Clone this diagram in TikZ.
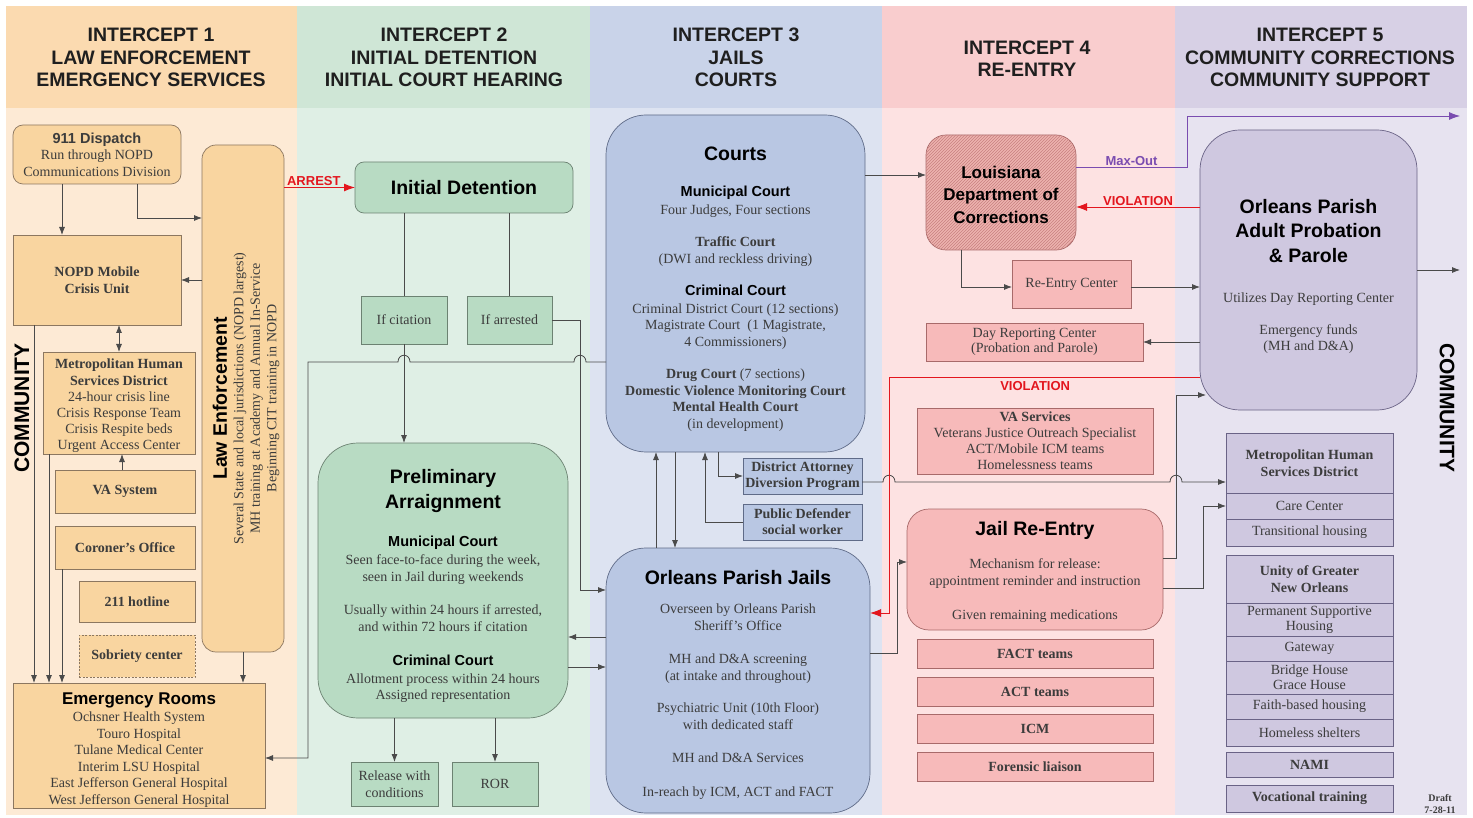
\documentclass[tikz,border=0pt]{standalone}
\usepackage{fontspec}
\setmainfont{Liberation Serif}
\setsansfont{Liberation Sans}
\usepackage{tikz}
\usetikzlibrary{positioning,arrows.meta,calc,patterns}

\definecolor{hdA}{HTML}{FBDAB0}
\definecolor{bgA}{HTML}{FDEAD5}
\definecolor{bxA}{HTML}{F9D5A0}
\definecolor{lnA}{HTML}{8C7760}
\definecolor{hdB}{HTML}{CFE6D6}
\definecolor{bgB}{HTML}{DFEFE5}
\definecolor{bxB}{HTML}{B8DBC3}
\definecolor{lnB}{HTML}{6C8272}
\definecolor{hdC}{HTML}{C9D3E9}
\definecolor{bgC}{HTML}{DDE3F1}
\definecolor{bxC}{HTML}{B9C7E3}
\definecolor{lnC}{HTML}{5F6B88}
\definecolor{hdD}{HTML}{F9CDCE}
\definecolor{bgD}{HTML}{FDE2E2}
\definecolor{bxD}{HTML}{F7BABA}
\definecolor{lnD}{HTML}{A86A6A}
\definecolor{hdE}{HTML}{D7D0E5}
\definecolor{bgE}{HTML}{E7E3F0}
\definecolor{bxE}{HTML}{CFC8E0}
\definecolor{lnE}{HTML}{6A6386}
\definecolor{ldocfill}{HTML}{EEB4AF}
\definecolor{ldochatch}{HTML}{C88080}
\definecolor{vred}{HTML}{E3161E}
\definecolor{mxpurple}{HTML}{7A4CB0}
\definecolor{lnk}{HTML}{4A4A4A}
\definecolor{txt}{HTML}{3C3C3C}

\newcommand{\hdrfont}{\sffamily\bfseries\fontsize{19.5}{22.5}\selectfont}
\newcommand{\ttlfont}{\sffamily\bfseries\fontsize{19.5}{23}\selectfont}
\newcommand{\subfont}{\sffamily\bfseries\fontsize{14.5}{17}\selectfont}
\newcommand{\bodyfont}{\fontsize{14}{16.5}\selectfont}
\newcommand{\tagfont}{\sffamily\bfseries\fontsize{13}{15}\selectfont}

\tikzset{
  sz/.style 2 args={minimum width=#1pt, minimum height=#2pt},
  boxbase/.style={draw, line width=0.7pt, align=center, inner sep=1pt, outer sep=0pt,
    font=\bodyfont, text=txt},
  lebox/.style={boxbase, draw=lnA, fill=bxA},
  idbox/.style={boxbase, draw=lnB, fill=bxB},
  jlbox/.style={boxbase, draw=lnC, fill=bxC},
  rebox/.style={boxbase, draw=lnD, fill=bxD},
  ccbox/.style={boxbase, draw=lnE, fill=bxE, line width=1pt},
  hdr/.style={align=center, font=\hdrfont, text=black!88, inner sep=0pt},
  conn/.style={draw=lnk, line width=0.8pt},
  arr/.style={conn, -{Latex[length=8pt,width=6pt]}},
  dblarr/.style={conn, {Latex[length=8pt,width=6pt]}-{Latex[length=8pt,width=6pt]}},
  vio/.style={draw=vred, line width=0.9pt, -{Latex[length=11pt,width=8pt]}},
  mxo/.style={draw=mxpurple, line width=0.8pt, -{Latex[length=11pt,width=8pt]}},
  flowtag/.style={font=\tagfont, inner sep=1pt},
}

\begin{document}
\begin{tikzpicture}[x=1pt,y=-1pt]

  \useasboundingbox (0,0) rectangle (1473,818);
  \fill[white] (0,0) rectangle (1473,818);

  \fill[bgA] (6,6) rectangle (297,815);
  \fill[hdA] (6,6) rectangle (297,108);
  \fill[bgB] (297,6) rectangle (590,815);
  \fill[hdB] (297,6) rectangle (590,108);
  \fill[bgC] (590,6) rectangle (882,815);
  \fill[hdC] (590,6) rectangle (882,108);
  \fill[bgD] (882,6) rectangle (1175,815);
  \fill[hdD] (882,6) rectangle (1175,108);
  \fill[bgE] (1175,6) rectangle (1467,815);
  \fill[hdE] (1175,6) rectangle (1467,108);

  \node[hdr] (h1) at (151,57.5) {INTERCEPT 1\\LAW ENFORCEMENT\\EMERGENCY SERVICES};
  \node[hdr] (h2) at (444,57.5) {INTERCEPT 2\\INITIAL DETENTION\\INITIAL COURT HEARING};
  \node[hdr] (h3) at (736,57.5) {INTERCEPT 3\\JAILS\\COURTS};
  \node[hdr] (h4) at (1027,58.5) {INTERCEPT 4\\RE-ENTRY};
  \node[hdr] (h5) at (1320,57.5) {INTERCEPT 5\\COMMUNITY CORRECTIONS\\COMMUNITY SUPPORT};

  \node[rotate=90, font=\sffamily\bfseries\fontsize{21}{24}\selectfont] (comL) at (22,408) {COMMUNITY};
  \node[rotate=-90, font=\sffamily\bfseries\fontsize{21}{24}\selectfont] (comR) at (1447,408) {COMMUNITY};

  % intercept 1
  \node[lebox, sz={168}{59}, rounded corners=10pt] (disp) at (97,154.5)
    {{\subfont 911 Dispatch}\\Run through NOPD\\Communications Division};
  \node[lebox, sz={168}{90}] (mcu) at (97,280) {\textbf{NOPD Mobile}\\\textbf{Crisis Unit}};
  \node[lebox, sz={82}{507}, rounded corners=14pt] (lenf) at (243,398.5) {};
  \node[rotate=90, align=center, font=\bodyfont, text=txt] (lenftxt) at ($(lenf.center)+(3,0)$)
    {{\ttlfont\color{black} Law Enforcement}\\Several State and local jurisdictions (NOPD largest)\\MH training at Academy and Annual In-Service\\Beginning CIT training in NOPD};
  \node[lebox, sz={152}{98}, font=\fontsize{14}{16.2}\selectfont] (mhsd) at (119,403)
    {\rule{0pt}{16pt}\textbf{Metropolitan Human}\\\textbf{Services District}\\24-hour crisis line\\Crisis Response Team\\Crisis Respite beds\\Urgent Access Center};
  \node[lebox, sz={140}{43}] (vasys) at (125,491.5) {\textbf{VA System}};
  \node[lebox, sz={140}{43}] (coron) at (125,547.5) {\textbf{Coroner's Office}};
  \node[lebox, sz={116}{41}] (hotl) at (137,601.5) {\textbf{211 hotline}};
  \node[lebox, sz={116}{42}, dash pattern=on 2pt off 1.5pt] (sobr) at (137,656) {\textbf{Sobriety center}};
  \node[lebox, sz={252}{121}] (er) at (139,745.5)
    {\rule{0pt}{20pt}{\sffamily\bfseries\fontsize{17}{20}\selectfont\color{black} Emergency Rooms}\\[1pt]Ochsner Health System\\Touro Hospital\\Tulane Medical Center\\Interim LSU Hospital\\East Jefferson General Hospital\\West Jefferson General Hospital};

  \draw[arr] ($(disp.south)+(-35,0)$) -- ($(disp.south |- mcu.north)+(-35,0)$);
  \draw[arr] ($(disp.south)+(40,0)$) |- ($(lenf.west)+(0,-180.5)$);
  \draw[arr] (lenf.west |- mcu.east) -- (mcu.east);
  \draw[dblarr] (mcu.south -| mhsd.north) -- (mhsd.north);
  \draw[arr] ($(vasys.north)+(-3,0)$) -- ($(vasys.north |- mhsd.south)+(-3,0)$);
  \draw[arr] ($(mcu.south)+(-63,0)$) -- ($(mcu.south |- er.north)+(-63,0)$);
  \draw[arr] ($(mhsd.south)+(-70,0)$) -- ($(mhsd.south |- er.north)+(-70,0)$);
  \draw[arr] ($(coron.south)+(-63,0)$) -- ($(coron.south |- er.north)+(-63,0)$);
  \draw[arr] (lenf.south) -- (lenf.south |- er.north);

  % intercept 2
  \node[idbox, sz={218}{51}, rounded corners=9pt, font=\ttlfont, text=black] (idet) at (464,187.5) {Initial Detention};
  \node[idbox, sz={86}{48}] (ifcit) at (404,320) {If citation};
  \node[idbox, sz={85}{48}] (ifarr) at (509.5,320) {If arrested};
  \node[idbox, sz={250}{275}, rounded corners=40pt] (prelim) at (443,580.5)
    {\rule{0pt}{25pt}{\ttlfont\color{black} Preliminary}\\[6pt]{\ttlfont\color{black} Arraignment}\\[21pt]{\subfont\color{black} Municipal Court}\\[2pt]Seen face-to-face during the week,\\seen in Jail during weekends\\[17pt]Usually within 24 hours if arrested,\\and within 72 hours if citation\\[18pt]{\subfont\color{black} Criminal Court}\\[1pt]Allotment process within 24 hours\\Assigned representation};
  \node[idbox, sz={87}{44}] (relc) at (394.5,784) {Release with\\conditions};
  \node[idbox, sz={86}{44}] (ror) at (495,784) {ROR};

  \draw[vio] (lenf.east |- idet.west) -- node[flowtag, above, pos=0.42, text=vred] {ARREST} (idet.west);
  \draw[conn] (idet.south -| ifcit.north) -- (ifcit.north);
  \draw[conn] (idet.south -| ifarr.north) -- (ifarr.north);
  \draw[arr] (ifcit.south) -- (ifcit.south |- prelim.north);
  \draw[arr] (relc.north |- prelim.south) -- (relc.north);
  \draw[arr] (ror.north |- prelim.south) -- (ror.north);

  % intercept 3
  \node[jlbox, sz={259}{337}, rounded corners=40pt] (courts) at (735.5,283.5)
    {\rule{0pt}{24pt}{\ttlfont\color{black} Courts}\\[20pt]{\subfont\color{black} Municipal Court}\\[1pt]Four Judges, Four sections\\[16pt]\textbf{Traffic Court}\\(DWI and reckless driving)\\[16pt]{\subfont\color{black} Criminal Court}\\[1pt]Criminal District Court (12 sections)\\Magistrate Court\ \ (1 Magistrate,\\4 Commissioners)\\[16pt]\textbf{Drug Court} (7 sections)\\\textbf{Domestic Violence Monitoring Court}\\\textbf{Mental Health Court}\\(in development)};
  \node[jlbox, sz={264}{265}, rounded corners=40pt] (jail) at (738,680.5)
    {\rule{0pt}{23pt}{\ttlfont\color{black} Orleans Parish Jails}\\[13pt]Overseen by Orleans Parish\\Sheriff's Office\\[17pt]MH and D\&A screening\\(at intake and throughout)\\[16pt]Psychiatric Unit (10th Floor)\\with dedicated staff\\[17pt]MH and D\&A Services\\[17pt]In-reach by ICM, ACT and FACT};
  \node[jlbox, sz={119}{36}, font=\bfseries\fontsize{14}{16}\selectfont] (da) at (802.5,476) {District Attorney\\Diversion Program};
  \node[jlbox, sz={119}{36}, font=\bfseries\fontsize{14}{16}\selectfont] (pd) at (802.5,522) {Public Defender\\social worker};

  \coordinate (ja) at ($(ifarr.east)+(28,0)$);
  \coordinate (cw) at ($(courts.west)+(0,78.5)$);
  \draw[arr] (ifarr.east) -- (ja) |- ($(jail.west)+(0,-90.5)$);
  \draw[arr] ($(prelim.east -| jail.west)+(0,56.5)$) -- ($(prelim.east)+(0,56.5)$);
  \draw[arr] ($(prelim.east)+(0,86.5)$) -- ($(prelim.east -| jail.west)+(0,86.5)$);
  \draw[arr] (cw) -- ($(ja |- cw)+(6,0)$) .. controls +(0,-9) and +(0,-9) .. ($(ja |- cw)+(-6,0)$)
    -- ($(ifcit.south |- cw)+(6,0)$) .. controls +(0,-9) and +(0,-9) .. ($(ifcit.south |- cw)+(-6,0)$)
    -| ($(prelim.west)+(-10,0)$) |- ($(er.east)+(0,12.5)$);
  \draw[arr] ($(jail.north)+(-82,0)$) -- ($(jail.north |- courts.south)+(-82,0)$);
  \draw[arr] ($(jail.north |- courts.south)+(-63,0)$) -- ($(jail.north)+(-63,0)$);
  \draw[arr] ($(courts.south)+(-17.5,0)$) |- (da.west);
  \draw[arr] (pd.west) -| ($(courts.south)+(-30.5,0)$);

  % intercept 4
  \node[rebox, sz={150}{115}, rounded corners=20pt, fill=ldocfill,
    postaction={pattern=north east lines, pattern color=ldochatch},
    font=\sffamily\bfseries\fontsize{17}{22.5}\selectfont, text=black] (ldoc) at (1001,192.5)
    {\rule{0pt}{17pt}Louisiana\\Department of\\Corrections};
  \node[rebox, sz={119}{48}] (rec) at (1071.5,284) {Re-Entry Center};
  \node[rebox, sz={217}{38}, font=\fontsize{14}{15.5}\selectfont] (drc) at (1034.5,342) {Day Reporting Center\\(Probation and Parole)};
  \node[rebox, sz={236}{66}, font=\fontsize{14}{16}\selectfont] (vas) at (1035,441)
    {\textbf{VA Services}\\Veterans Justice Outreach Specialist\\ACT/Mobile ICM teams\\Homelessness teams};
  \node[rebox, sz={256}{121}, rounded corners=22pt] (jre) at (1035,569.5)
    {\rule{0pt}{19pt}{\ttlfont\color{black} Jail Re-Entry}\\[17pt]Mechanism for release:\\appointment reminder and instruction\\[18pt]Given remaining medications};
  \node[rebox, sz={236}{29}] (fact) at (1035,653.5) {\textbf{FACT teams}};
  \node[rebox, sz={236}{29}] (act) at (1035,691.5) {\textbf{ACT teams}};
  \node[rebox, sz={236}{29}] (icm) at (1035,728.5) {\textbf{ICM}};
  \node[rebox, sz={236}{29}] (fore) at (1035,766.5) {\textbf{Forensic liaison}};

  % intercept 5
  \node[ccbox, sz={217}{280}, rounded corners=40pt, line width=0.7pt] (opapp) at (1308.5,270)
    {\rule{0pt}{27pt}{\ttlfont\color{black} Orleans Parish}\\[8pt]{\ttlfont\color{black} Adult Probation}\\[8pt]{\ttlfont\color{black} \& Parole}\\[24pt]Utilizes Day Reporting Center\\[15pt]Emergency funds\\(MH and D\&A)};
  \node[ccbox, sz={167}{60}] (cmhsd) at (1309.5,463) {\textbf{Metropolitan Human}\\\textbf{Services District}};
  \node[ccbox, sz={167}{26}] (care) at (1309.5,506) {Care Center};
  \node[ccbox, sz={167}{27}] (trans) at (1309.5,532.5) {Transitional housing};
  \node[ccbox, sz={167}{48}] (unity) at (1309.5,579) {\textbf{Unity of Greater}\\\textbf{New Orleans}};
  \node[ccbox, sz={167}{33}, font=\fontsize{14}{15}\selectfont] (psh) at (1309.5,619.5) {Permanent Supportive\\Housing};
  \node[ccbox, sz={167}{25}] (gate) at (1309.5,648.5) {Gateway};
  \node[ccbox, sz={167}{33}, font=\fontsize{14}{15}\selectfont] (bridge) at (1309.5,677.5) {Bridge House\\Grace House};
  \node[ccbox, sz={167}{25}] (faith) at (1309.5,706.5) {Faith-based housing};
  \node[ccbox, sz={167}{27}] (homel) at (1309.5,732.5) {Homeless shelters};
  \node[ccbox, sz={167}{25}] (nami) at (1309.5,764.5) {\textbf{NAMI}};
  \node[ccbox, sz={167}{27}] (voc) at (1309.5,798.5) {\textbf{Vocational training}};
  \node[align=center, font=\bfseries\fontsize{10}{12}\selectfont, text=txt] (draft) at (1440,804) {Draft\\7-28-11};

  \coordinate (vx) at ($(jail.east)+(19,-67.5)$);
  \coordinate (jx) at ($(jre.east)+(13,0)$);
  \coordinate (dae) at ($(da.east)+(0,6)$);
  \coordinate (mxend) at (1460,116);
  \coordinate (cmend) at (1460,270);

  \draw[arr] ($(ldoc.west -| courts.east)+(0,-17.5)$) -- ($(ldoc.west)+(0,-17.5)$);
  \draw[arr] (dae) -- ($(dae -| vx)+(-6,0)$) .. controls +(0,-9) and +(0,-9) .. ($(dae -| vx)+(6,0)$)
    -- ($(dae -| jx)+(-6,0)$) .. controls +(0,-9) and +(0,-9) .. ($(dae -| jx)+(6,0)$)
    -- (dae -| cmhsd.west);
  \draw[arr] ($(jail.east)+(0,-27.5)$) -| ($(jre.west)+(-10,-7.5)$) -- ($(jre.west)+(0,-7.5)$);
  \draw[vio] ($(opapp.west)+(0,107)$) -| node[flowtag, below, pos=0.265, text=vred, yshift=-3pt] {VIOLATION} (vx) -- (vx -| jail.east);
  \draw[mxo] ($(ldoc.east)+(0,-25.5)$) -- node[flowtag, above, text=mxpurple] {Max-Out} ($(ldoc.east -| opapp.west)+(-13,-25.5)$) |- (mxend);
  \draw[vio] ($(opapp.west)+(0,-63)$) -- node[flowtag, above, text=vred] {VIOLATION} ($(ldoc.east |- opapp.west)+(0,-63)$);
  \draw[arr] ($(ldoc.south)+(-40,0)$) |- ($(rec.west)+(0,3)$);
  \draw[arr] ($(rec.east)+(0,3)$) -- ($(rec.east -| opapp.west)+(0,3)$);
  \draw[arr] (drc.east -| opapp.west) -- (drc.east);
  \draw[arr] ($(jre.east)+(0,-11.5)$) -| ($(opapp.west)+(-24,125)$) -- ($(opapp.west)+(6,125)$);
  \draw[arr] ($(jre.east)+(0,18.5)$) -| ($(care.west)+(-23,0)$) -- (care.west);
  \draw[arr] (opapp.east) -- (cmend);

\end{tikzpicture}
\end{document}
